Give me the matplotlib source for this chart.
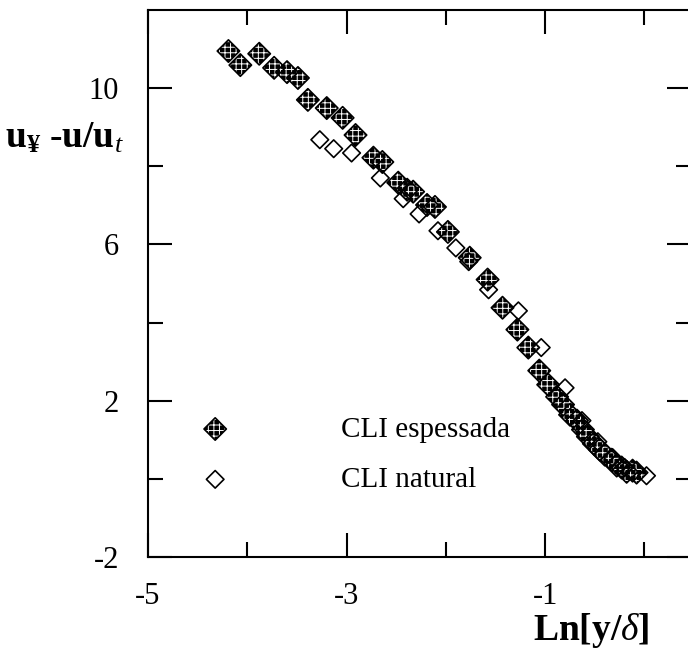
import numpy as np
import matplotlib.pyplot as plt
from matplotlib.ticker import FixedLocator

plt.rcParams['font.family'] = ['Liberation Serif', 'DejaVu Serif']
plt.rcParams['mathtext.fontset'] = 'custom'
plt.rcParams['mathtext.rm'] = 'Liberation Serif'
plt.rcParams['mathtext.it'] = 'Liberation Serif:italic'
plt.rcParams['mathtext.bf'] = 'Liberation Serif:bold'
plt.rcParams['axes.unicode_minus'] = False
plt.rcParams['hatch.linewidth'] = 0.7

# CLI espessada (thickened boundary layer)
ln_y_thick = [-4.19, -4.07, -3.88, -3.73, -3.60, -3.49, -3.39, -3.20, -3.04, -2.91,
              -2.73, -2.64, -2.48, -2.39, -2.33, -2.19, -2.11, -1.98, -1.76, -1.58,
              -1.43, -1.28, -1.17, -1.06, -0.97, -0.88, -0.82, -0.75, -0.68, -0.62,
              -0.57, -0.51, -0.45, -0.40, -0.33, -0.28, -0.23, -0.18, -0.12, -0.08]
defect_thick = [10.95, 10.59, 10.88, 10.52, 10.41, 10.26, 9.70, 9.49, 9.24, 8.80,
                8.22, 8.11, 7.58, 7.40, 7.35, 7.01, 6.96, 6.32, 5.66, 5.10,
                4.38, 3.82, 3.36, 2.77, 2.41, 2.10, 1.90, 1.64, 1.49, 1.26,
                1.08, 0.90, 0.75, 0.62, 0.49, 0.34, 0.29, 0.18, 0.21, 0.16]

# CLI natural
ln_y_nat = [-3.27, -3.13, -2.95, -2.66, -2.43, -2.27, -2.08, -1.90, -1.77,
            -1.57, -1.27, -1.04, -0.80, -0.63, -0.47, -0.32, -0.20, 0.02]
defect_nat = [8.68, 8.45, 8.34, 7.70, 7.17, 6.78, 6.35, 5.91, 5.56,
              4.84, 4.30, 3.36, 2.33, 1.49, 0.95, 0.54, 0.29, 0.08]

xticks_major = [-5, -3, -1]
xticks_minor = [-4, -2, 0]
yticks_major = [-2, 2, 6, 10]
yticks_minor = [0, 4, 8]

fig = plt.figure(figsize=(6.88, 6.51), dpi=100)
ax = fig.add_axes([148 / 688, 94 / 651, 543 / 688, 547 / 651])

# dark checkered diamonds: black fill with white hatch, then black outline
thick_fill = ax.scatter(ln_y_thick, defect_thick, marker='D', s=130, facecolors='black',
                        edgecolors='white', hatch='+++', linewidths=0, zorder=3)
thick_edge = ax.scatter(ln_y_thick, defect_thick, marker='D', s=130, facecolors='none',
                        edgecolors='black', linewidths=1.2, zorder=3)
nat = ax.scatter(ln_y_nat, defect_nat, marker='D', s=80, facecolors='none',
                 edgecolors='black', linewidths=1.2, zorder=4)

ax.set_xlim(-5, -5 + 543 / 99.3)
ax.set_ylim(-2, 12)

ax.xaxis.set_major_locator(FixedLocator(xticks_major))
ax.xaxis.set_minor_locator(FixedLocator(xticks_minor))
ax.yaxis.set_major_locator(FixedLocator(yticks_major))
ax.yaxis.set_minor_locator(FixedLocator(yticks_minor))

ax.tick_params(which='both', direction='in', top=True, right=True, width=1.5)
ax.tick_params(which='major', length=17, labelsize=22)
ax.tick_params(which='minor', length=11)
ax.tick_params(axis='y', which='major', pad=21)
ax.tick_params(axis='x', which='major', pad=18)

for sp in ax.spines.values():
    sp.set_linewidth(1.5)

ax.legend([(thick_fill, thick_edge), nat], ['CLI espessada', 'CLI natural'],
          loc='upper left', bbox_to_anchor=(0.07, 0.284), frameon=False,
          fontsize=21, handletextpad=3.8, labelspacing=0.82,
          handlelength=1.0, borderpad=0, scatterpoints=1)

fig.text(5 / 688, (651 - 148) / 651, '$\\mathbf{u}_{\\mathbf{¥}}\\ \\mathbf{\u2010u/u}_{t}$',
         fontsize=27, ha='left', va='baseline')
fig.text(591 / 688, (651 - 640) / 651, r'$\mathbf{Ln[y/}\delta\mathbf{]}$',
         fontsize=27, ha='center', va='baseline')

fig.savefig('out.png', dpi=100)
